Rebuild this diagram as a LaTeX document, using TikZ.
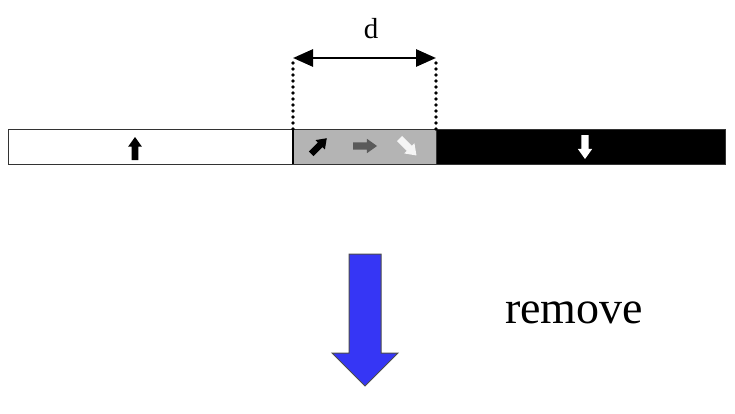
\documentclass[tikz,border=0pt]{standalone}
\usepackage{fontspec}
\setmainfont{Liberation Serif}
\usetikzlibrary{arrows.meta, positioning, calc}
\definecolor{wallgray}{HTML}{B4B4B4}
\definecolor{midgray}{HTML}{5A5A5A}
\definecolor{paleblue}{HTML}{3636F5}
\tikzset{
  seg/.style={draw=black!80, line width=1pt, minimum height=35pt, inner sep=0pt, outer sep=0pt},
  guide/.style={line width=3.6pt, line cap=round, dash pattern=on 0pt off 6pt},
  spin/.pic={\fill[pic actions] (-0.15,-0.5) -- (-0.15,0.08) -- (-0.3,0.08) -- (0,0.5) -- (0.3,0.08) -- (0.15,0.08) -- (0.15,-0.5) -- cycle;}
}
\begin{document}
\begin{tikzpicture}[x=1pt, y=1pt]
    \useasboundingbox (0,0) rectangle (735,413);
    % Domains
    \node[seg, fill=white, minimum width=285pt] (up) at (150.5,266.5) {};
    \node[seg, fill=wallgray, minimum width=143pt] (wall) at (364.5,266.5) {};
    \node[seg, fill=black, minimum width=289pt] (down) at (580.5,266.5) {};
    \draw[line width=1.5pt] (wall.north west) -- (wall.south west);
    % Spins
    \pic[fill=black, scale=23] at (135,264.5) {spin};
    \pic[fill=black, scale=22, rotate=-45] at (319,267) {spin};
    \pic[fill=midgray, scale=24, rotate=-90] at (365,267) {spin};
    \pic[fill=white!92!gray, scale=24, rotate=-135] at (408,266) {spin};
    \pic[fill=white, scale=24, rotate=180] at (585,266) {spin};
    % Width of the wall
    \coordinate (wl) at (293,355);
    \coordinate (wr) at (436,355);
    \draw[guide] (wall.north west) -- (wl);
    \draw[guide] (wall.north east) -- (wr);
    \draw[{Triangle[length=20pt, width=17pt]}-{Triangle[length=20pt, width=17pt]}, line width=2.8pt] (wl) -- (wr);
    \node[font=\fontsize{29}{32}\selectfont] (dlabel) at (371,384) {d};
    % Removal
    \filldraw[fill=paleblue, draw=black!70, line width=1pt]
      (349,159) -- (381,159) -- (381,60) -- (398,60) -- (365,27) -- (332,60) -- (349,60) -- cycle;
    \node[font=\fontsize{46}{50}\selectfont] (rm) at (574,100) {remove};
\end{tikzpicture}
\end{document}
